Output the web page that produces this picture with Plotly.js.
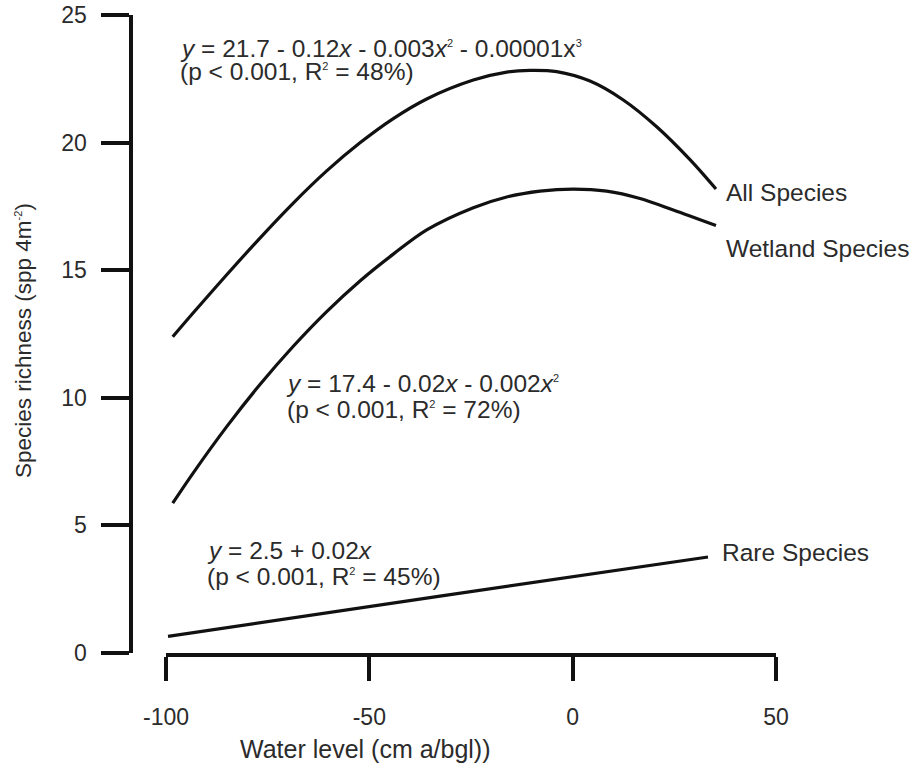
<!DOCTYPE html>
<html>
<head>
<meta charset="utf-8">
<script src="https://cdn.plot.ly/plotly-3.0.1.min.js"></script>
<style>
  html, body { margin: 0; padding: 0; background: #ffffff; }
  #chart { width: 915px; height: 771px; }
</style>
</head>
<body>
<div id="chart"></div>
<script>
// Fitted species-richness responses along the water-level gradient
const allX = [-98.35, -93.29, -85.07, -76.89, -68.70, -60.48, -52.30, -44.11, -35.89,
              -24.43, -16.22, -10.49, -3.93, 4.26, 12.45, 20.66, 28.85, 35.24];
const allY = [12.39, 13.33, 14.82, 16.26, 17.63, 18.89, 19.99, 20.94, 21.71,
              22.45, 22.76, 22.83, 22.78, 22.41, 21.67, 20.62, 19.33, 18.18];

const wetX = [-98.35, -93.29, -85.07, -76.89, -68.70, -60.48, -52.30, -44.11, -35.89,
              -24.43, -16.22, -8.03, 0.15, 8.37, 16.56, 24.74, 35.24];
const wetY = [5.87, 7.06, 8.87, 10.52, 12.02, 13.38, 14.58, 15.63, 16.58,
              17.45, 17.87, 18.10, 18.18, 18.10, 17.81, 17.36, 16.75];

const rareX = [-99.5, -32.62, 33.28];
const rareY = [0.65, 2.23, 3.76];

const xTicks = [-100, -50, 0, 50];
const yTicks = [0, 5, 10, 15, 20, 25];

const FONT = 'Liberation Sans, Arial, Helvetica, sans-serif';
const TXT = '#2b2b2b';
const INK = '#111111';
const FS_TICK = 23;
const FS_NOTE = 24.5;

const W = 915, H = 771;
// pixel helpers for placing the axes in the page
const px = v => v / W;
const py = v => (H - v) / H;

// small raised exponent
const sup = s => '<sup><span style="font-size:11px">' + s + '</span></sup>';

const curve = (x, y) => ({
  x: x, y: y, type: 'scatter', mode: 'lines',
  line: { color: INK, width: 3.2, shape: 'spline', smoothing: 0.9 },
  hoverinfo: 'skip', showlegend: false
});

const traces = [curve(allX, allY), curve(wetX, wetY), curve(rareX, rareY)];

const note = (x, y, text) => ({
  x: x, y: y, xref: 'x', yref: 'y', text: text, showarrow: false,
  xanchor: 'left', yanchor: 'middle',
  font: { family: FONT, size: FS_NOTE, color: TXT }
});

const annotations = [
  note(-97.05, 23.67, '<i>y</i> = 21.7 - 0.12<i>x</i> - 0.003<i>x</i>' + sup('2') + ' - 0.00001x' + sup('3')),
  note(-97.05, 22.77, '(p &lt; 0.001, R' + sup('2') + ' = 48%)'),
  note(-70.98, 10.58, '<i>y</i> = 17.4 - 0.02<i>x</i> - 0.002<i>x</i>' + sup('2')),
  note(-70.74, 9.56, '(p &lt; 0.001, R' + sup('2') + ' = 72%)'),
  note(-90.41, 4.00, '<i>y</i> = 2.5 + 0.02<i>x</i>'),
  note(-90.41, 2.98, '(p &lt; 0.001, R' + sup('2') + ' = 45%)'),
  note(37.13, 18.03, 'All Species'),
  note(37.13, 15.87, 'Wetland Species'),
  note(36.23, 3.92, 'Rare Species'),
  {
    xref: 'paper', yref: 'paper', x: px(23), y: py(341),
    text: 'Species richness (spp 4m' + sup('-2') + ')', textangle: -90, showarrow: false,
    xanchor: 'center', yanchor: 'middle',
    font: { family: FONT, size: 22.5, color: TXT }
  },
  {
    xref: 'paper', yref: 'paper', x: px(365), y: py(749),
    text: 'Water level (cm a/bgl))', showarrow: false,
    xanchor: 'center', yanchor: 'middle',
    font: { family: FONT, size: 25, color: TXT }
  }
];

const layout = {
  width: W, height: H,
  margin: { l: 0, r: 0, t: 0, b: 0 },
  paper_bgcolor: '#ffffff', plot_bgcolor: 'rgba(0,0,0,0)',
  font: { family: FONT, size: FS_TICK, color: TXT },
  showlegend: false,
  xaxis: {
    domain: [px(166), px(776)],
    range: [-100, 50],
    tickmode: 'array', tickvals: xTicks, ticktext: xTicks.map(String),
    showgrid: false, zeroline: false,
    showline: true, linecolor: INK, linewidth: 4,
    ticks: 'outside', ticklen: 24, tickwidth: 4, tickcolor: INK,
    ticklabelstandoff: 16,
    tickfont: { family: FONT, size: FS_TICK, color: TXT },
    fixedrange: true
  },
  yaxis: {
    domain: [py(653), py(15)],
    range: [0, 25],
    anchor: 'free', position: px(130.5),
    tickmode: 'array', tickvals: yTicks, ticktext: yTicks.map(String),
    showgrid: false, zeroline: false,
    showline: true, linecolor: INK, linewidth: 4,
    ticks: 'outside', ticklen: 28, tickwidth: 4, tickcolor: INK,
    ticklabelstandoff: 9,
    tickfont: { family: FONT, size: FS_TICK, color: TXT },
    fixedrange: true
  },
  annotations: annotations
};

Plotly.newPlot('chart', traces, layout, { displayModeBar: false, staticPlot: true });
</script>
</body>
</html>
